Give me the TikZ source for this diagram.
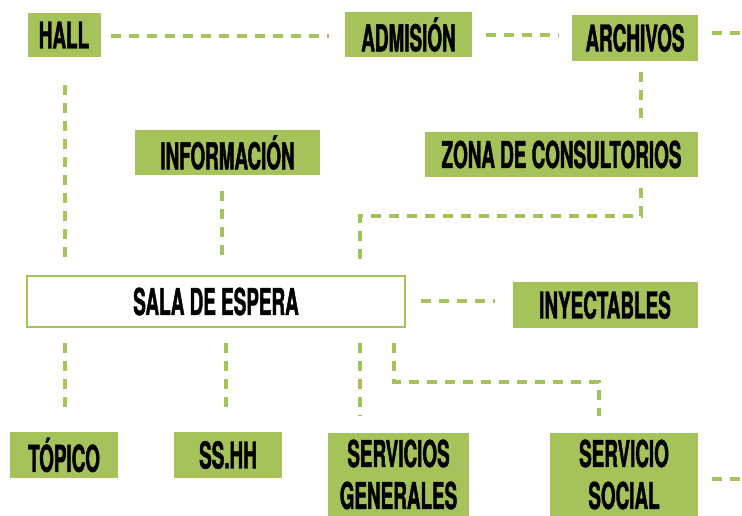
\documentclass[tikz,border=0pt]{standalone}
\usepackage{fontspec}
\newfontfamily\labfont{TeX Gyre Heros}[FakeStretch=0.51,FakeBold=1.2]
\definecolor{boxgreen}{HTML}{A6C35B}
\definecolor{linkgreen}{HTML}{A6C35B}
\begin{document}
\begin{tikzpicture}[x=1pt,y=-1pt,
  box/.style={fill=boxgreen, inner sep=0pt, align=center,
    font=\labfont\bfseries\fontsize{37}{42}\selectfont},
  hollow/.style={box, fill=white, draw=boxgreen, line width=2.5pt},
  link/.style={draw=linkgreen, line width=4pt, dash pattern=on 10pt off 8pt}]
\useasboundingbox (0,0) rectangle (742,516);

\node[box, minimum width=73pt, minimum height=44pt] (hall) at (64,35) {HALL};
\node[box, minimum width=127pt, minimum height=45pt] (adm) at (408.5,34.5) {ADMISIÓN};
\node[box, minimum width=126pt, minimum height=46pt] (arch) at (635,38) {ARCHIVOS};
\node[box, minimum width=185pt, minimum height=45pt] (info) at (227.5,152.5) {INFORMACIÓN};
\node[box, minimum width=273pt, minimum height=45pt] (zona) at (561.5,154.5) {ZONA DE CONSULTORIOS};
\node[hollow, minimum width=378pt, minimum height=51pt] (sala) at (216,301.5) {SALA DE ESPERA};
\node[box, minimum width=185pt, minimum height=46pt] (iny) at (605,305) {INYECTABLES};
\node[box, minimum width=108pt, minimum height=46pt] (top) at (64,455) {TÓPICO};
\node[box, minimum width=108pt, minimum height=46pt] (sshh) at (228,455) {SS.HH};
\node[box, minimum width=141pt, minimum height=84pt] (servg) at (398.5,474.5) {SERVICIOS\\GENERALES};
\node[box, minimum width=148pt, minimum height=84pt] (servs) at (624,474.5) {SERVICIO\\SOCIAL};

\coordinate (r1) at (742,33);
\coordinate (r2) at (742,479);
\coordinate (zbend) at (360,216);
\coordinate (sbend) at (394,382);

% top row
\draw[link, shorten <=10pt, shorten >=16pt] ([yshift=-1pt]hall.east) -- ([yshift=-1pt]hall.east -| adm.west);
\draw[link, shorten <=14pt, shorten >=13pt] ([yshift=-1pt]adm.east) -- ([yshift=-1pt]adm.east -| arch.west);
\draw[link, shorten <=14pt] (arch.east |- r1) -- (r1);
% verticals to sala
\draw[link, shorten <=28pt, shorten >=13pt] ([xshift=1pt]hall.south) -- ([xshift=1pt]hall.south |- sala.north);
\draw[link, shorten <=11pt, shorten >=10pt] ([xshift=6pt]arch.south) -- ([xshift=6pt]arch.south |- zona.north);
\draw[link, shorten <=16pt, shorten >=12pt] ([xshift=-5.5pt]info.south) -- ([xshift=-5.5pt]info.south |- sala.north);
\draw[link, shorten <=11pt, shorten >=12pt] ([xshift=79.5pt]zona.south) |- (zbend) -- (zbend |- sala.north);
% sala to inyectables
\draw[link, shorten <=15pt, shorten >=17.5pt] ([yshift=0.5pt]sala.east) -- ([yshift=0.5pt]sala.east -| iny.west);
% sala to bottom row
\draw[link, shorten <=15pt, shorten >=17pt] ([xshift=1pt]top.north |- sala.south) -- ([xshift=1pt]top.north);
\draw[link, shorten <=15pt, shorten >=17pt] ([xshift=-2pt]sshh.north |- sala.south) -- ([xshift=-2pt]sshh.north);
\draw[link, shorten <=15pt, shorten >=17pt] ([xshift=-38.5pt]servg.north |- sala.south) -- ([xshift=-38.5pt]servg.north);
\draw[link, shorten <=15pt, shorten >=16pt] (sbend |- sala.south) -- (sbend) -| ([xshift=-25pt]servs.north);
\draw[link, shorten <=14pt] (servs.east |- r2) -- (r2);
\end{tikzpicture}
\end{document}
